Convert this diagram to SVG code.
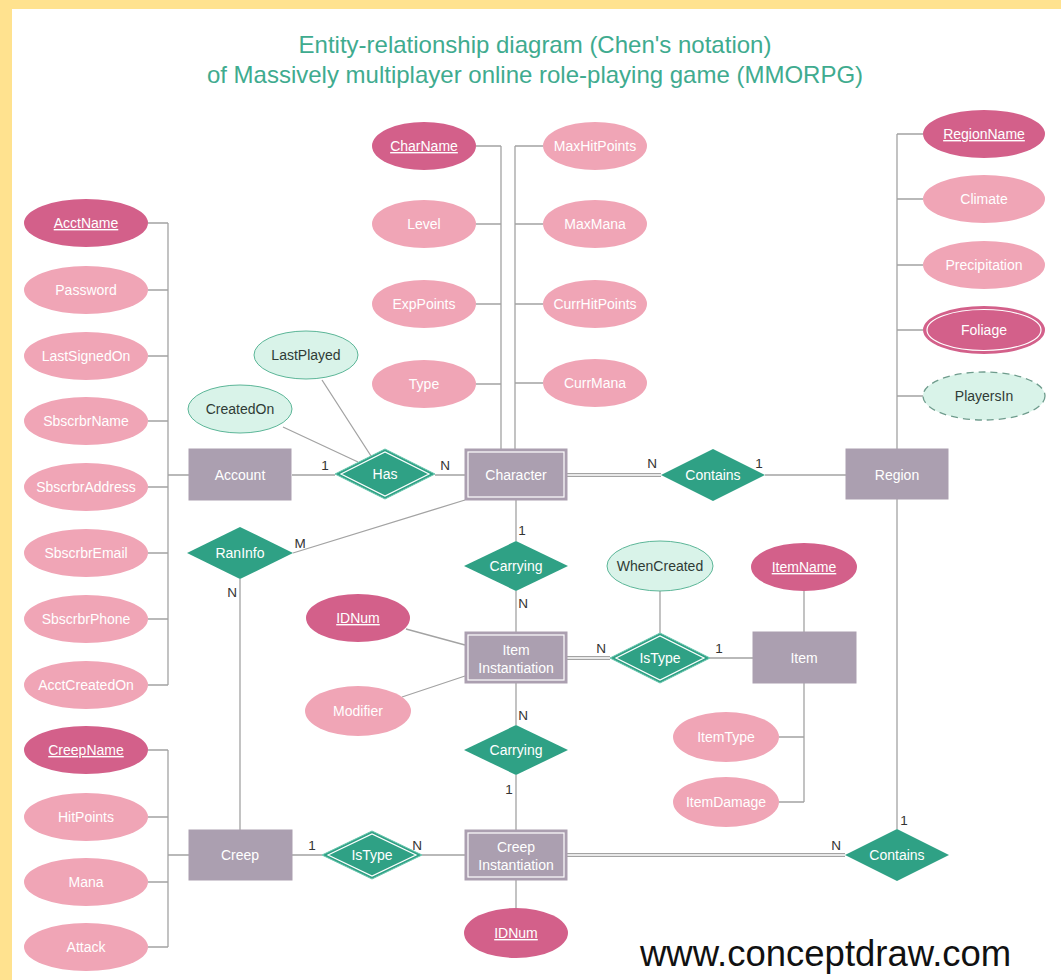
<svg xmlns="http://www.w3.org/2000/svg" width="1061" height="980" viewBox="0 0 1061 980">
  <style>
    .title { font-family: "Liberation Sans", Arial, sans-serif; font-size: 24px; fill: #3fab8f; text-anchor: middle; }
    .lbl { font-family: "Liberation Sans", Arial, sans-serif; font-size: 14px; fill: #ffffff; text-anchor: middle; }
    .dark { fill: #2f3b36; }
    .key { text-decoration: underline; }
    .card { font-family: "Liberation Sans", Arial, sans-serif; font-size: 13.5px; fill: #333333; text-anchor: middle; }
    .ent { fill: #ab9fb0; stroke: #ab9fb0; stroke-width: 1; }
    .inner { fill: none; stroke: #ffffff; stroke-width: 1.2; }
    .attr { fill: #f0a5b6; }
    .kattr { fill: #d3608a; }
    .mint { fill: #d9f3e9; stroke: #5cb698; stroke-width: 1; }
    .dashed { fill: #d9f3e9; stroke: #6f9c8d; stroke-width: 1.3; stroke-dasharray: 7 5; }
    .rel { fill: #2fa185; }
    .relw { fill: #2fa185; stroke: #6cc8b0; stroke-width: 1; }
    .ln { fill: none; stroke: #a3a3a3; stroke-width: 1.3; }
    .dbl { fill: none; stroke: #a3a3a3; stroke-width: 4; }
    .dblgap { fill: none; stroke: #ffffff; stroke-width: 1.4; }
    .footer { font-family: "Liberation Sans", Arial, sans-serif; font-size: 36.5px; fill: #111111; }
  </style>

  <!-- page frame -->
  <rect x="0" y="0" width="1061" height="980" fill="#ffe28f"/>
  <rect x="12" y="9" width="1049" height="971" fill="#ffffff"/>

  <text class="title" x="535" y="53">Entity-relationship diagram (Chen's notation)</text>
  <text class="title" x="535" y="83">of Massively multiplayer online role-playing game (MMORPG)</text>

  <!-- connectors -->
  <g id="connectors">
    <!-- Account attributes -->
    <path class="ln" d="M168,223 V685 M148,223 H168 M148,290 H168 M148,356 H168 M148,421 H168 M148,487 H168 M148,553 H168 M148,619 H168 M148,685 H168 M168,475 H189"/>
    <!-- Character attributes -->
    <path class="ln" d="M501,146 V449 M476,146 H501 M476,224 H501 M476,304 H501 M476,384 H501"/>
    <path class="ln" d="M515,146 V449 M543,146 H515 M543,224 H515 M543,304 H515 M543,383 H515"/>
    <!-- Region attributes -->
    <path class="ln" d="M897,134 V449 M897,134 H923 M897,199 H923 M897,265 H923 M897,330 H923 M897,396 H923"/>
    <!-- Has -->
    <path class="ln" d="M292,475 H335 M435,475 H465 M283,427 L358,462 M322,380 L371,456"/>
    <!-- Contains (Character / Region) -->
    <path class="dbl" d="M567,475 H661"/>
    <path class="dblgap" d="M567,475 H661"/>
    <path class="ln" d="M765,475 H846"/>
    <!-- RanInfo -->
    <path class="ln" d="M293,553 L465,500 M240,579 V830"/>
    <!-- Carrying (Character / Item Instantiation) -->
    <path class="ln" d="M516,500 V541 M516,591 V632"/>
    <!-- Item Instantiation attributes -->
    <path class="ln" d="M406,629 L465,645 M402,697 L465,676"/>
    <!-- IsType (Item) -->
    <path class="dbl" d="M567,658 H610"/>
    <path class="dblgap" d="M567,658 H610"/>
    <path class="ln" d="M710,658 H753 M660,591 V633"/>
    <!-- Item attributes -->
    <path class="ln" d="M804,591 V632 M804,683 V802 M779,737 H804 M779,802 H804"/>
    <!-- Carrying (Item Instantiation / Creep Instantiation) -->
    <path class="ln" d="M516,683 V725 M516,775 V830"/>
    <!-- Creep Instantiation -->
    <path class="ln" d="M516,880 V908"/>
    <!-- Creep attributes -->
    <path class="ln" d="M168,750 V947 M148,750 H168 M148,817 H168 M148,882 H168 M148,947 H168 M168,855 H189"/>
    <!-- IsType (Creep) -->
    <path class="ln" d="M292,855 H322 M422,855 H465"/>
    <!-- Contains (Creep Instantiation / Region) -->
    <path class="dbl" d="M567,855 H845"/>
    <path class="dblgap" d="M567,855 H845"/>
    <path class="ln" d="M897,499 V829"/>

    <!-- cardinalities -->
    <text class="card" x="325" y="470">1</text>
    <text class="card" x="445" y="470">N</text>
    <text class="card" x="652" y="468">N</text>
    <text class="card" x="759" y="468">1</text>
    <text class="card" x="300" y="548">M</text>
    <text class="card" x="232" y="597">N</text>
    <text class="card" x="522" y="535">1</text>
    <text class="card" x="523" y="608">N</text>
    <text class="card" x="601" y="653">N</text>
    <text class="card" x="719" y="653">1</text>
    <text class="card" x="523" y="720">N</text>
    <text class="card" x="509" y="794">1</text>
    <text class="card" x="312" y="850">1</text>
    <text class="card" x="417" y="850">N</text>
    <text class="card" x="836" y="850">N</text>
    <text class="card" x="904" y="825">1</text>
  </g>

  <!-- Account -->
  <g id="account">
    <rect class="ent" x="189" y="449" width="102" height="51"/>
    <text class="lbl" x="240" y="480">Account</text>
  </g>
  <g id="acct-name"><ellipse class="kattr" cx="86" cy="223" rx="62" ry="24"/><text class="lbl key" x="86" y="228">AcctName</text></g>
  <g id="password"><ellipse class="attr" cx="86" cy="290" rx="62" ry="24"/><text class="lbl" x="86" y="295">Password</text></g>
  <g id="last-signed-on"><ellipse class="attr" cx="86" cy="356" rx="62" ry="24"/><text class="lbl" x="86" y="361">LastSignedOn</text></g>
  <g id="sbscrbr-name"><ellipse class="attr" cx="86" cy="421" rx="62" ry="24"/><text class="lbl" x="86" y="426">SbscrbrName</text></g>
  <g id="sbscrbr-address"><ellipse class="attr" cx="86" cy="487" rx="62" ry="24"/><text class="lbl" x="86" y="492">SbscrbrAddress</text></g>
  <g id="sbscrbr-email"><ellipse class="attr" cx="86" cy="553" rx="62" ry="24"/><text class="lbl" x="86" y="558">SbscrbrEmail</text></g>
  <g id="sbscrbr-phone"><ellipse class="attr" cx="86" cy="619" rx="62" ry="24"/><text class="lbl" x="86" y="624">SbscrbrPhone</text></g>
  <g id="acct-created-on"><ellipse class="attr" cx="86" cy="685" rx="62" ry="24"/><text class="lbl" x="86" y="690">AcctCreatedOn</text></g>

  <!-- Has -->
  <g id="has">
    <polygon class="relw" points="335,474 385,449 435,474 385,499"/>
    <polygon class="inner" points="341,474 385,452 429,474 385,496"/>
    <text class="lbl" x="385" y="479">Has</text>
  </g>
  <g id="created-on"><ellipse class="mint" cx="240" cy="409" rx="52" ry="24"/><text class="lbl dark" x="240" y="414">CreatedOn</text></g>
  <g id="last-played"><ellipse class="mint" cx="306" cy="355" rx="52" ry="24"/><text class="lbl dark" x="306" y="360">LastPlayed</text></g>

  <!-- Character -->
  <g id="character">
    <rect class="ent" x="465" y="449" width="102" height="51"/>
    <rect class="inner" x="468" y="452" width="96" height="45"/>
    <text class="lbl" x="516" y="480">Character</text>
  </g>
  <g id="char-name"><ellipse class="kattr" cx="424" cy="146" rx="52" ry="24"/><text class="lbl key" x="424" y="151">CharName</text></g>
  <g id="level"><ellipse class="attr" cx="424" cy="224" rx="52" ry="24"/><text class="lbl" x="424" y="229">Level</text></g>
  <g id="exp-points"><ellipse class="attr" cx="424" cy="304" rx="52" ry="24"/><text class="lbl" x="424" y="309">ExpPoints</text></g>
  <g id="type"><ellipse class="attr" cx="424" cy="384" rx="52" ry="24"/><text class="lbl" x="424" y="389">Type</text></g>
  <g id="max-hit-points"><ellipse class="attr" cx="595" cy="146" rx="52" ry="24"/><text class="lbl" x="595" y="151">MaxHitPoints</text></g>
  <g id="max-mana"><ellipse class="attr" cx="595" cy="224" rx="52" ry="24"/><text class="lbl" x="595" y="229">MaxMana</text></g>
  <g id="curr-hit-points"><ellipse class="attr" cx="595" cy="304" rx="52" ry="24"/><text class="lbl" x="595" y="309">CurrHitPoints</text></g>
  <g id="curr-mana"><ellipse class="attr" cx="595" cy="383" rx="52" ry="24"/><text class="lbl" x="595" y="388">CurrMana</text></g>

  <!-- Contains (Character / Region) -->
  <g id="contains-region">
    <polygon class="rel" points="661,475 713,449 765,475 713,501"/>
    <text class="lbl" x="713" y="480">Contains</text>
  </g>

  <!-- Region -->
  <g id="region">
    <rect class="ent" x="846" y="449" width="102" height="50"/>
    <text class="lbl" x="897" y="480">Region</text>
  </g>
  <g id="region-name"><ellipse class="kattr" cx="984" cy="134" rx="61" ry="24"/><text class="lbl key" x="984" y="139">RegionName</text></g>
  <g id="climate"><ellipse class="attr" cx="984" cy="199" rx="61" ry="24"/><text class="lbl" x="984" y="204">Climate</text></g>
  <g id="precipitation"><ellipse class="attr" cx="984" cy="265" rx="61" ry="24"/><text class="lbl" x="984" y="270">Precipitation</text></g>
  <g id="foliage">
    <ellipse class="kattr" cx="984" cy="330" rx="61" ry="24"/>
    <ellipse class="inner" cx="984" cy="330" rx="57" ry="20.5"/>
    <text class="lbl" x="984" y="335">Foliage</text>
  </g>
  <g id="players-in"><ellipse class="dashed" cx="984" cy="396" rx="61" ry="24"/><text class="lbl dark" x="984" y="401">PlayersIn</text></g>

  <!-- RanInfo -->
  <g id="ran-info">
    <polygon class="rel" points="187,553 240,527 293,553 240,579"/>
    <text class="lbl" x="240" y="558">RanInfo</text>
  </g>

  <!-- Carrying (Character / Item Instantiation) -->
  <g id="carrying-item">
    <polygon class="rel" points="464,566 516,541 568,566 516,591"/>
    <text class="lbl" x="516" y="571">Carrying</text>
  </g>

  <!-- Item Instantiation -->
  <g id="item-instantiation">
    <rect class="ent" x="465" y="632" width="102" height="51"/>
    <rect class="inner" x="468" y="635" width="96" height="45"/>
    <text class="lbl" x="516" y="655">Item</text>
    <text class="lbl" x="516" y="673">Instantiation</text>
  </g>
  <g id="item-idnum"><ellipse class="kattr" cx="358" cy="618" rx="52" ry="24"/><text class="lbl key" x="358" y="623">IDNum</text></g>
  <g id="modifier"><ellipse class="attr" cx="358" cy="711" rx="53" ry="25"/><text class="lbl" x="358" y="716">Modifier</text></g>

  <!-- IsType (Item) -->
  <g id="is-type-item">
    <polygon class="relw" points="610,658 660,633 710,658 660,683"/>
    <polygon class="inner" points="616,658 660,636 704,658 660,680"/>
    <text class="lbl" x="660" y="663">IsType</text>
  </g>
  <g id="when-created"><ellipse class="mint" cx="660" cy="566" rx="53" ry="25"/><text class="lbl dark" x="660" y="571">WhenCreated</text></g>

  <!-- Item -->
  <g id="item">
    <rect class="ent" x="753" y="632" width="103" height="51"/>
    <text class="lbl" x="804" y="663">Item</text>
  </g>
  <g id="item-name"><ellipse class="kattr" cx="804" cy="567" rx="53" ry="24"/><text class="lbl key" x="804" y="572">ItemName</text></g>
  <g id="item-type"><ellipse class="attr" cx="726" cy="737" rx="53" ry="25"/><text class="lbl" x="726" y="742">ItemType</text></g>
  <g id="item-damage"><ellipse class="attr" cx="726" cy="802" rx="53" ry="25"/><text class="lbl" x="726" y="807">ItemDamage</text></g>

  <!-- Carrying (Item Instantiation / Creep Instantiation) -->
  <g id="carrying-creep">
    <polygon class="rel" points="464,750 516,725 568,750 516,775"/>
    <text class="lbl" x="516" y="755">Carrying</text>
  </g>

  <!-- Creep Instantiation -->
  <g id="creep-instantiation">
    <rect class="ent" x="465" y="830" width="102" height="50"/>
    <rect class="inner" x="468" y="833" width="96" height="44"/>
    <text class="lbl" x="516" y="852">Creep</text>
    <text class="lbl" x="516" y="870">Instantiation</text>
  </g>
  <g id="creep-idnum"><ellipse class="kattr" cx="516" cy="933" rx="52" ry="25"/><text class="lbl key" x="516" y="938">IDNum</text></g>

  <!-- Creep -->
  <g id="creep">
    <rect class="ent" x="189" y="830" width="103" height="50"/>
    <text class="lbl" x="240" y="860">Creep</text>
  </g>
  <g id="creep-name"><ellipse class="kattr" cx="86" cy="750" rx="62" ry="24"/><text class="lbl key" x="86" y="755">CreepName</text></g>
  <g id="hit-points"><ellipse class="attr" cx="86" cy="817" rx="62" ry="24"/><text class="lbl" x="86" y="822">HitPoints</text></g>
  <g id="mana"><ellipse class="attr" cx="86" cy="882" rx="62" ry="24"/><text class="lbl" x="86" y="887">Mana</text></g>
  <g id="attack"><ellipse class="attr" cx="86" cy="947" rx="62" ry="24"/><text class="lbl" x="86" y="952">Attack</text></g>

  <!-- IsType (Creep) -->
  <g id="is-type-creep">
    <polygon class="relw" points="322,855 372,831 422,855 372,879"/>
    <polygon class="inner" points="328,855 372,834 416,855 372,876"/>
    <text class="lbl" x="372" y="860">IsType</text>
  </g>

  <!-- Contains (Creep Instantiation / Region) -->
  <g id="contains-creep">
    <polygon class="rel" points="845,855 897,829 949,855 897,881"/>
    <text class="lbl" x="897" y="860">Contains</text>
  </g>

  <text class="footer" x="640" y="966">www.conceptdraw.com</text>
</svg>
